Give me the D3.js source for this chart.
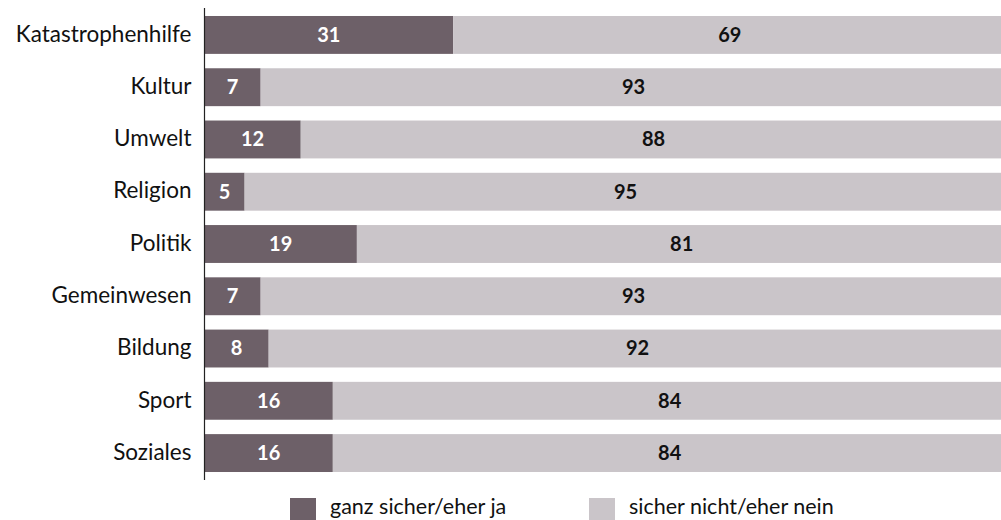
<!DOCTYPE html>
<html><head><meta charset="utf-8">
<script src="https://cdn.jsdelivr.net/npm/d3@7"></script>
<style>body{margin:0;background:#fff}svg{display:block}</style>
</head><body><svg id="c" width="1001" height="520"></svg>
<script>
const categories = ["Katastrophenhilfe","Kultur","Umwelt","Religion","Politik","Gemeinwesen","Bildung","Sport","Soziales"];
const yesValues = [31,7,12,5,19,7,8,16,16];
const noValues = [69,93,88,95,81,93,92,84,84];
const seriesNames = ["ganz sicher/eher ja","sicher nicht/eher nein"];
const colors = ["#6d6068","#cac5c9"];

const svg = d3.select("#c");
const font = "Lato, 'Noto Sans', sans-serif";
const x = d3.scaleLinear().domain([0,100]).range([204.5,1006.5]);
const y = d3.scaleBand().domain(categories).range([8,480]).paddingInner(0.275).paddingOuter(0.153);

const rows = categories.map((c,i)=>({c, segs:[{k:0,x0:0,x1:yesValues[i],v:yesValues[i]},{k:1,x0:yesValues[i],x1:yesValues[i]+noValues[i],v:noValues[i]}]}));

const g = svg.append("g");
const row = g.selectAll("g.row").data(rows).join("g").attr("class","row");
row.selectAll("rect").data(d=>d.segs.map(s=>({...s,c:d.c}))).join("rect")
  .attr("x",d=>x(d.x0)).attr("width",d=>x(d.x1)-x(d.x0))
  .attr("y",d=>y(d.c)).attr("height",y.bandwidth())
  .attr("fill",d=>colors[d.k]);
row.selectAll("text").data(d=>d.segs.map(s=>({...s,c:d.c}))).join("text")
  .attr("x",d=>(x(d.x0)+x(d.x1))/2).attr("y",d=>y(d.c)+y.bandwidth()/2)
  .attr("dy","0.34em").attr("text-anchor","middle")
  .attr("font-family",font).attr("font-weight","bold").attr("font-size",20)
  .attr("fill",d=>d.k===0?"#ffffff":"#111111").text(d=>d.v);

const yAxis = d3.axisLeft(y).tickSize(0).tickPadding(13);
const ax = svg.append("g").attr("transform",`translate(${x(0)},0)`).call(yAxis);
ax.select(".domain").attr("stroke","#222").attr("stroke-width",1.2).attr("d","M0,8V480");
ax.selectAll("text").attr("font-family",font).attr("font-size",22.5).attr("fill","#111").attr("dy","0.3em");

const lg = svg.append("g");
const lx = [290,589];
seriesNames.forEach((n,i)=>{
  lg.append("rect").attr("x",lx[i]).attr("y",498).attr("width",26).attr("height",22).attr("fill",colors[i]);
  lg.append("text").attr("x",lx[i]+40).attr("y",514).attr("font-family",font).attr("font-size",21.5).attr("fill","#111").text(n);
});
</script></body></html>
